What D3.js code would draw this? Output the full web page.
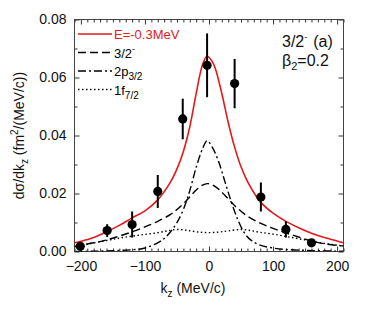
<!DOCTYPE html>
<html>
<head>
<meta charset="utf-8">
<script src="https://cdn.jsdelivr.net/npm/d3@7"></script>
<style>
  body { margin: 0; background: #fff; }
  text { font-family: "Liberation Sans", Arial, sans-serif; }
</style>
</head>
<body>
<script>
'use strict';

// measured points
let dataKz = [-201, -159, -120, -80, -41, -3, 40, 81, 120, 160];
let dataY = [0.0018, 0.0072, 0.0093, 0.0207, 0.0457, 0.0642, 0.0579, 0.0188, 0.0076, 0.0030];
let dataErr = [0.0008, 0.0022, 0.0045, 0.0057, 0.0070, 0.0110, 0.0085, 0.0050, 0.0028, 0.0008];

// E=-0.3MeV total
let redKz = [-210, -200, -180, -160, -140, -120, -100, -80, -60, -50, -40, -30, -20, -10, -3, 5, 10, 20, 30, 40, 50, 60, 80, 100, 120, 140, 160, 180, 200, 210];
let redY = [0.0030, 0.0035, 0.0048, 0.0068, 0.0090, 0.0116, 0.0140, 0.0178, 0.0240, 0.0285, 0.0345, 0.0430, 0.0545, 0.0645, 0.0673, 0.0655, 0.0630, 0.0545, 0.0445, 0.0360, 0.0292, 0.0242, 0.0172, 0.0132, 0.0104, 0.0082, 0.0063, 0.0048, 0.0036, 0.0030];

// 3/2- component
let dashKz = [-210, -180, -160, -140, -120, -100, -80, -60, -50, -40, -30, -20, -10, -3, 5, 15, 25, 35, 45, 60, 80, 100, 120, 140, 160, 180, 200, 210];
let dashY = [0.0018, 0.0030, 0.0040, 0.0053, 0.0068, 0.0085, 0.0104, 0.0128, 0.0145, 0.0165, 0.0188, 0.0212, 0.0229, 0.0234, 0.0230, 0.0215, 0.0193, 0.0170, 0.0148, 0.0122, 0.0098, 0.0080, 0.0064, 0.0050, 0.0036, 0.0027, 0.0021, 0.0019];

// 2p3/2 component
let dotdashKz = [-210, -180, -150, -120, -100, -80, -70, -60, -50, -40, -30, -20, -10, -3, 5, 15, 25, 35, 45, 55, 65, 80, 100, 120, 150, 180, 210];
let dotdashY = [0.0000, 0.0001, 0.0003, 0.0006, 0.0012, 0.0030, 0.0045, 0.0068, 0.0100, 0.0145, 0.0210, 0.0290, 0.0355, 0.0382, 0.0360, 0.0310, 0.0240, 0.0170, 0.0110, 0.0065, 0.0040, 0.0022, 0.0012, 0.0007, 0.0004, 0.0002, 0.0001];

// 1f7/2 component
let dotKz = [-210, -190, -160, -140, -120, -100, -80, -65, -50, -35, -20, -3, 15, 30, 50, 65, 80, 100, 120, 140, 160, 180, 200, 210];
let dotY = [0.0016, 0.0025, 0.0038, 0.0046, 0.0053, 0.0059, 0.0065, 0.0071, 0.0076, 0.0073, 0.0068, 0.0065, 0.0067, 0.0071, 0.0076, 0.0072, 0.0066, 0.0060, 0.0052, 0.0044, 0.0036, 0.0028, 0.0022, 0.0019];

let xTicks = [-200, -100, 0, 100, 200];
let yTicks = [0, 0.02, 0.04, 0.06, 0.08];

let width = 374;
let height = 320;
let m = {left: 74.5, right: 30.5, top: 19.5, bottom: 68.5};
let pw = width - m.left - m.right;
let ph = height - m.top - m.bottom;

let x = d3.scaleLinear().domain([-210, 210]).range([0, pw]);
let y = d3.scaleLinear().domain([0, 0.08]).range([ph, 0]);

let svg = d3.select('body').append('svg')
  .attr('width', width)
  .attr('height', height);

let g = svg.append('g')
  .attr('transform', 'translate(' + m.left + ',' + m.top + ')');

let xMinor = d3.range(-210, 211, 10).filter(function(v) { return v % 100 !== 0; });
let yMinor = [0.01, 0.03, 0.05, 0.07];

let styleAxis = function(sel) {
  sel.select('.domain').remove();
  sel.selectAll('line').attr('stroke', '#333');
  sel.selectAll('text').attr('font-size', 14).attr('fill', '#111');
};

// bottom
g.append('g').attr('transform', 'translate(0,' + ph + ')')
  .call(d3.axisBottom(x).tickValues(xTicks).tickSizeInner(-5).tickSizeOuter(0).tickPadding(10).tickFormat(d3.format('d')))
  .call(styleAxis);
g.append('g').attr('transform', 'translate(0,' + ph + ')')
  .call(d3.axisBottom(x).tickValues(xMinor).tickSizeInner(-3).tickSizeOuter(0).tickFormat(''))
  .call(styleAxis);
// top
g.append('g')
  .call(d3.axisTop(x).tickValues(xTicks).tickSizeInner(-5).tickSizeOuter(0).tickFormat(''))
  .call(styleAxis);
g.append('g')
  .call(d3.axisTop(x).tickValues(xMinor).tickSizeInner(-3).tickSizeOuter(0).tickFormat(''))
  .call(styleAxis);
// left
g.append('g')
  .call(d3.axisLeft(y).tickValues(yTicks).tickSizeInner(-5).tickSizeOuter(0).tickPadding(8).tickFormat(d3.format('.2f')))
  .call(styleAxis);
g.append('g')
  .call(d3.axisLeft(y).tickValues(yMinor).tickSizeInner(-3).tickSizeOuter(0).tickFormat(''))
  .call(styleAxis);
// right
g.append('g').attr('transform', 'translate(' + pw + ',0)')
  .call(d3.axisRight(y).tickValues(yTicks).tickSizeInner(-5).tickSizeOuter(0).tickFormat(''))
  .call(styleAxis);
g.append('g').attr('transform', 'translate(' + pw + ',0)')
  .call(d3.axisRight(y).tickValues(yMinor).tickSizeInner(-3).tickSizeOuter(0).tickFormat(''))
  .call(styleAxis);

g.append('rect')
  .attr('width', pw)
  .attr('height', ph)
  .attr('fill', 'none')
  .attr('stroke', '#444')
  .attr('stroke-width', 1);

let clip = svg.append('clipPath').attr('id', 'plot-clip');
clip.append('rect').attr('width', pw).attr('height', ph);

let line = d3.line()
  .x(function(d) { return x(d[0]); })
  .y(function(d) { return y(d[1]); })
  .curve(d3.curveCatmullRom);

let curves = [
  {kz: dotKz, v: dotY, color: '#000', dash: '1.5,2.5', w: 1.4},
  {kz: dotdashKz, v: dotdashY, color: '#000', dash: '8,3,2,3', w: 1.4},
  {kz: dashKz, v: dashY, color: '#000', dash: '8,4', w: 1.4},
  {kz: redKz, v: redY, color: '#e31a1c', dash: null, w: 1.6}
];

let plot = g.append('g').attr('clip-path', 'url(#plot-clip)');

plot.selectAll('path.curve')
  .data(curves)
  .enter().append('path')
    .attr('class', 'curve')
    .attr('fill', 'none')
    .attr('stroke', function(d) { return d.color; })
    .attr('stroke-width', function(d) { return d.w; })
    .attr('stroke-dasharray', function(d) { return d.dash; })
    .attr('d', function(d) { return line(d.kz.map(function(k, i) { return [k, d.v[i]]; })); });

let points = dataKz.map(function(k, i) { return {kz: k, v: dataY[i], e: dataErr[i]}; });

g.selectAll('line.err')
  .data(points)
  .enter().append('line')
    .attr('class', 'err')
    .attr('x1', function(d) { return x(d.kz); })
    .attr('x2', function(d) { return x(d.kz); })
    .attr('y1', function(d) { return y(Math.max(0, d.v - d.e)); })
    .attr('y2', function(d) { return y(d.v + d.e); })
    .attr('stroke', '#000')
    .attr('stroke-width', 2);

g.selectAll('circle.pt')
  .data(points)
  .enter().append('circle')
    .attr('class', 'pt')
    .attr('cx', function(d) { return x(d.kz); })
    .attr('cy', function(d) { return y(d.v); })
    .attr('r', 4.6)
    .attr('fill', '#000');

// legend
let legend = [
  {color: '#e31a1c', dash: null, main: 'E=-0.3MeV', sup: null, sub: null},
  {color: '#000', dash: '8,4', main: '3/2', sup: '-', sub: null},
  {color: '#000', dash: '8,3,2,3', main: '2p', sup: null, sub: '3/2'},
  {color: '#000', dash: '1.5,2.5', main: '1f', sup: null, sub: '7/2'}
];

let lg = svg.append('g').attr('transform', 'translate(78,34)');
let row = lg.selectAll('g.row')
  .data(legend)
  .enter().append('g')
    .attr('class', 'row')
    .attr('transform', function(d, i) { return 'translate(0,' + (i * 18.5) + ')'; });

row.append('line')
  .attr('x1', 0).attr('x2', 34)
  .attr('stroke', function(d) { return d.color; })
  .attr('stroke-width', 1.5)
  .attr('stroke-dasharray', function(d) { return d.dash; });

let lt = row.append('text')
  .attr('x', 36)
  .attr('y', 5)
  .attr('font-size', 13)
  .attr('fill', function(d) { return d.color; })
  .text(function(d) { return d.main; });
lt.filter(function(d) { return d.sup; }).append('tspan')
  .attr('font-size', 9).attr('dy', -6)
  .text(function(d) { return d.sup; });
lt.filter(function(d) { return d.sub; }).append('tspan')
  .attr('font-size', 10).attr('dy', 4)
  .text(function(d) { return d.sub; });

// annotation
let ann = svg.append('text')
  .attr('x', 282).attr('y', 47)
  .attr('font-size', 16)
  .attr('fill', '#111');
ann.append('tspan').text('3/2');
ann.append('tspan').attr('font-size', 9).attr('dy', -7).text('-');
ann.append('tspan').attr('dy', 7).attr('dx', 6).text('(a)');

let beta = svg.append('text')
  .attr('x', 282).attr('y', 66)
  .attr('font-size', 16)
  .attr('fill', '#111');
beta.append('tspan').text('β');
beta.append('tspan').attr('font-size', 11).attr('dy', 4).text('2');
beta.append('tspan').attr('dy', -4).text('=0.2');

// axis titles
let xt = svg.append('text')
  .attr('x', m.left + pw / 2 - 16)
  .attr('y', 293)
  .attr('text-anchor', 'middle')
  .attr('font-size', 14)
  .attr('fill', '#111');
xt.append('tspan').text('k');
xt.append('tspan').attr('font-size', 10).attr('dy', 4).text('z');
xt.append('tspan').attr('dy', -4).text(' (MeV/c)');

let yt = svg.append('text')
  .attr('transform', 'translate(24,' + (m.top + ph / 2) + ') rotate(-90)')
  .attr('text-anchor', 'middle')
  .attr('font-size', 14)
  .attr('fill', '#111');
yt.append('tspan').text('dσ/dk');
yt.append('tspan').attr('font-size', 10).attr('dy', 4).text('z');
yt.append('tspan').attr('dy', -4).text(' (fm');
yt.append('tspan').attr('font-size', 10).attr('dy', -6).text('2');
yt.append('tspan').attr('dy', 6).text('/(MeV/c))');
</script>
</body>
</html>
